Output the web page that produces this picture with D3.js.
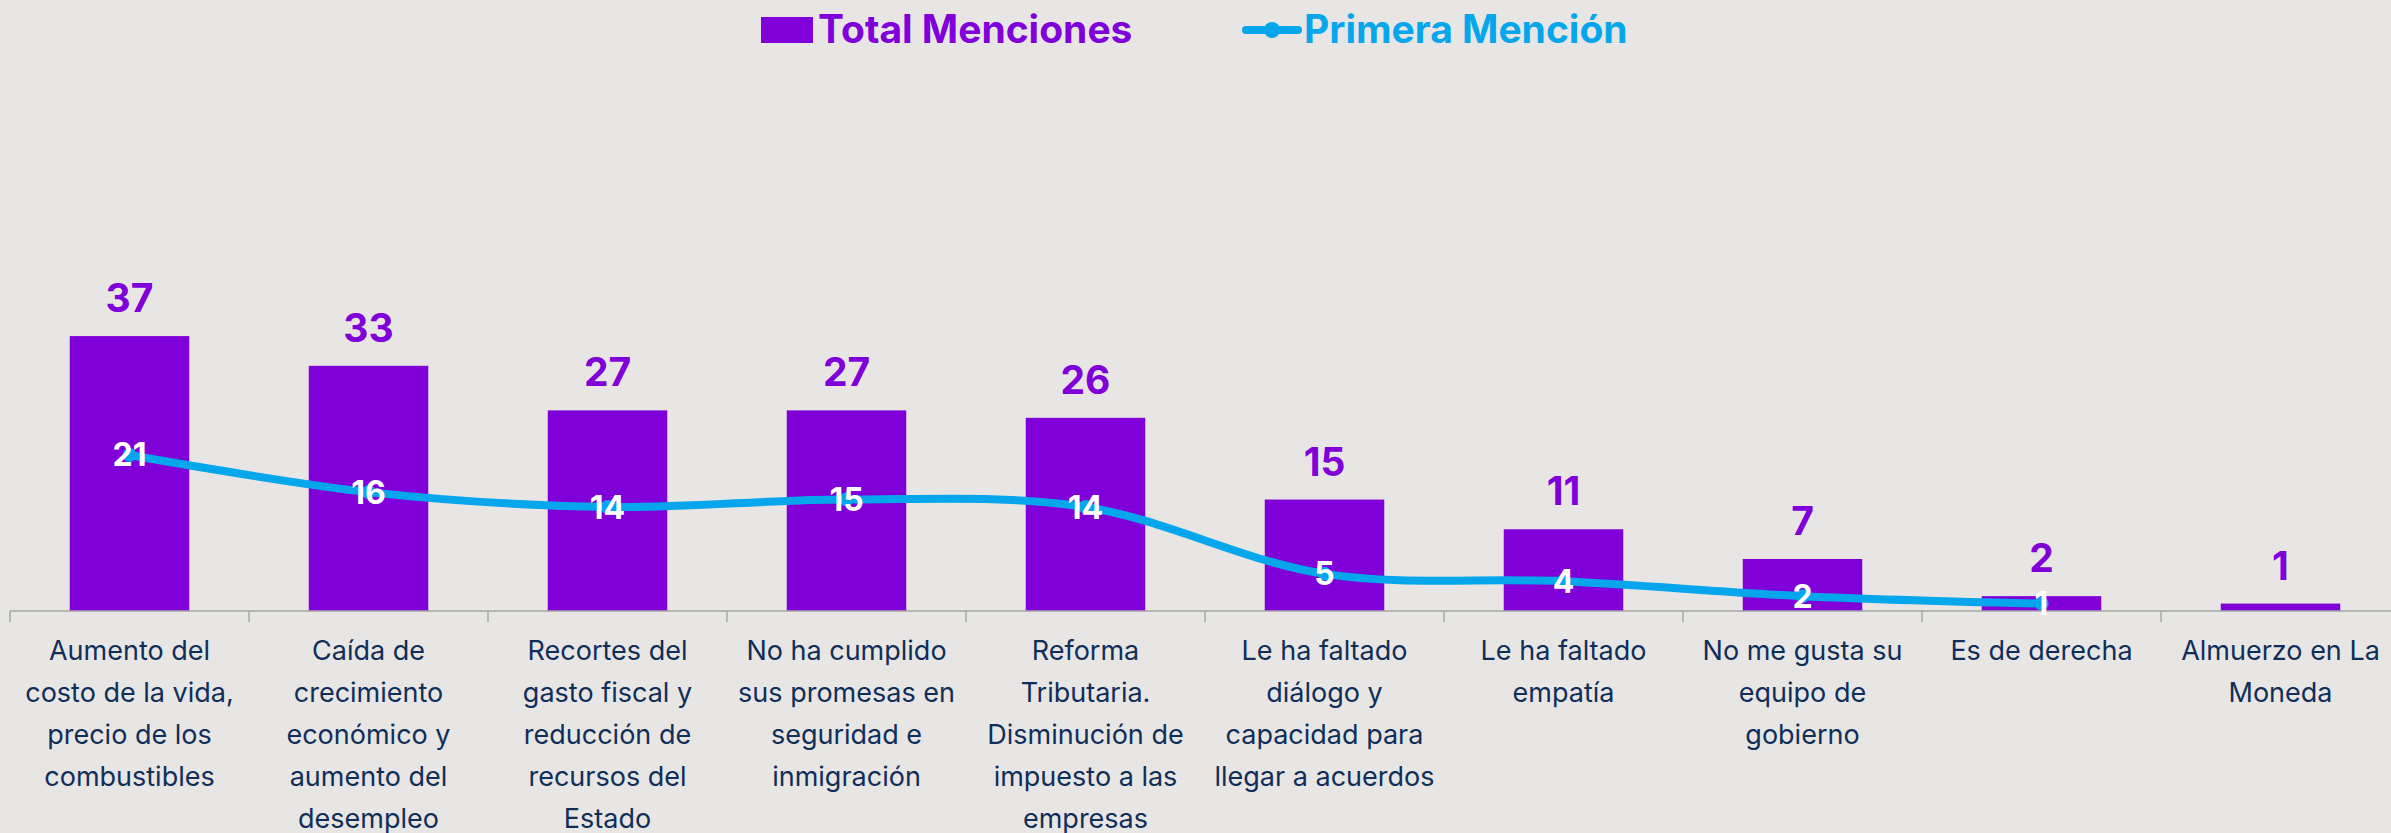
<!DOCTYPE html>
<html>
<head>
<meta charset="utf-8">
<script src="https://cdn.jsdelivr.net/npm/d3@7"></script>
<style>
  html, body { margin: 0; padding: 0; background: #e8e6e4; }
  svg { display: block; }
  text { font-family: "Inter", "Noto Sans", sans-serif; }
</style>
</head>
<body>
<svg id="chart"></svg>
<script>
const categories = [
    "Aumento del\ncosto de la vida,\nprecio de los\ncombustibles",
    "Caída de\ncrecimiento\neconómico y\naumento del\ndesempleo",
    "Recortes del\ngasto fiscal y\nreducción de\nrecursos del\nEstado",
    "No ha cumplido\nsus promesas en\nseguridad e\ninmigración",
    "Reforma\nTributaria.\nDisminución de\nimpuesto a las\nempresas",
    "Le ha faltado\ndiálogo y\ncapacidad para\nllegar a acuerdos",
    "Le ha faltado\nempatía",
    "No me gusta su\nequipo de\ngobierno",
    "Es de derecha",
    "Almuerzo en La\nMoneda"
];
const totalMenciones = [37, 33, 27, 27, 26, 15, 11, 7, 2, 1];
const primeraMencion = [21, 16, 14, 15, 14, 5, 4, 2, 1, null];
const seriesNames = ["Total Menciones", "Primera Mención"];

const width = 2391, height = 833;
const purple = "#7f00d9", blue = "#05a6ec", navy = "#0f2f5a";

const svg = d3.select("#chart").attr("width", width).attr("height", height);

const x = d3.scaleBand().domain(d3.range(categories.length))
    .range([10, 10 + 239 * categories.length]).paddingInner(0.5).paddingOuter(0.25);
const band = d3.scaleBand().domain(d3.range(categories.length))
    .range([10, 10 + 239 * categories.length]);
const y = d3.scaleLinear().domain([0, 40]).range([611, 611 - 7.43 * 40]);

// bars
svg.append("g").selectAll("rect").data(totalMenciones).join("rect")
    .attr("x", (d, i) => x(i))
    .attr("width", x.bandwidth())
    .attr("y", d => y(d))
    .attr("height", d => y(0) - y(d))
    .attr("fill", purple);

// axis line + ticks at band edges
const axis = svg.append("g").attr("transform", `translate(0,${y(0)})`);
axis.append("line").attr("x1", band.range()[0]).attr("x2", band.range()[1])
    .attr("stroke", "#a6a6a6").attr("stroke-width", 1.5);
axis.selectAll("line.tick").data(d3.range(categories.length)).join("line")
    .attr("class", "tick")
    .attr("x1", i => band(i)).attr("x2", i => band(i))
    .attr("y1", 0).attr("y2", 11)
    .attr("stroke", "#a6a6a6").attr("stroke-width", 1.5);

// category labels
const lab = svg.append("g").selectAll("text").data(categories).join("text")
    .attr("text-anchor", "middle")
    .attr("fill", navy)
    .style("font-size", "27px");
lab.each(function (d, i) {
    d3.select(this).selectAll("tspan").data(d.split("\n")).join("tspan")
        .attr("x", band(i) + band.bandwidth() / 2)
        .attr("y", (t, j) => 660 + j * 42)
        .text(t => t);
});

// bar value labels
svg.append("g").selectAll("text").data(totalMenciones).join("text")
    .attr("x", (d, i) => x(i) + x.bandwidth() / 2)
    .attr("y", d => y(d) - 24)
    .attr("text-anchor", "middle")
    .attr("fill", purple)
    .style("font-size", "39px").style("font-weight", 700)
    .text(d => d);

// line
const pts = primeraMencion.map((d, i) => [band(i) + band.bandwidth() / 2, d]).filter(p => p[1] != null);
const line = d3.line().x(p => p[0]).y(p => y(p[1])).curve(d3.curveCatmullRom.alpha(0.5));
svg.append("path").datum(pts)
    .attr("d", line)
    .attr("fill", "none")
    .attr("stroke", blue)
    .attr("stroke-width", 8)
    .attr("stroke-linecap", "round");
svg.append("g").selectAll("circle").data(pts).join("circle")
    .attr("cx", p => p[0]).attr("cy", p => y(p[1])).attr("r", 7)
    .attr("fill", blue);
svg.append("g").selectAll("text").data(pts).join("text")
    .attr("x", p => p[0])
    .attr("y", p => y(p[1]))
    .attr("dy", "0.36em")
    .attr("text-anchor", "middle")
    .attr("fill", "#ffffff")
    .style("font-size", "32px").style("font-weight", 700)
    .text(p => p[1]);

// legend
const leg = svg.append("g");
leg.append("rect").attr("x", 761).attr("y", 17).attr("width", 52).attr("height", 26).attr("fill", purple);
leg.append("text").attr("x", 818).attr("y", 43).attr("fill", purple)
    .style("font-size", "39px").style("font-weight", 700).text(seriesNames[0]);
leg.append("line").attr("x1", 1246).attr("x2", 1298).attr("y1", 30).attr("y2", 30)
    .attr("stroke", blue).attr("stroke-width", 8).attr("stroke-linecap", "round");
leg.append("circle").attr("cx", 1272).attr("cy", 30).attr("r", 8).attr("fill", blue);
leg.append("text").attr("x", 1304).attr("y", 43).attr("fill", blue)
    .style("font-size", "39px").style("font-weight", 700).text(seriesNames[1]);
</script>
</body>
</html>
